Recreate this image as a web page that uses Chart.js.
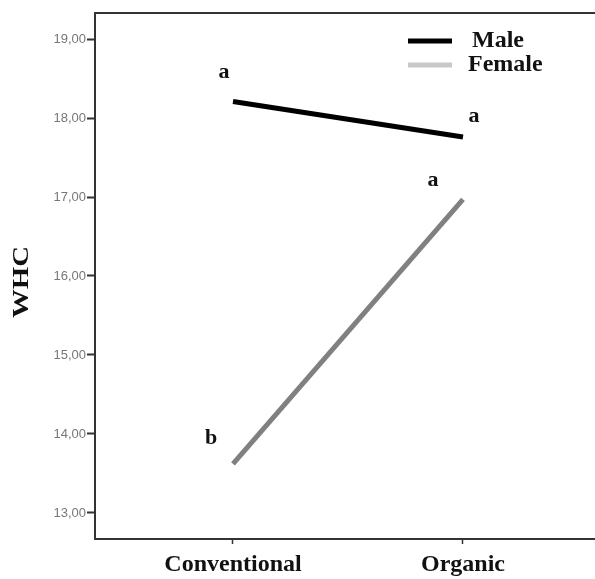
<!DOCTYPE html>
<html>
<head>
<meta charset="utf-8">
<script src="https://cdn.jsdelivr.net/npm/chart.js@4/dist/chart.umd.min.js"></script>
<style>
  html, body { margin: 0; padding: 0; background: #fff; }
  #wrap { width: 595px; height: 579px; }
</style>
</head>
<body>
<div id="wrap"><canvas id="c" width="595" height="579"></canvas></div>
<script>
// Farming system categories and WHC means by sex
const categories = ['Conventional', 'Organic'];
const seriesNames = ['Male', 'Female'];
const maleValues = [18.21, 17.76];
const femaleValues = [13.62, 16.97];
const maleLetters = ['a', 'a'];
const femaleLetters = ['b', 'a'];
const yTicks = [13, 14, 15, 16, 17, 18, 19];
const yTitle = 'WHC';

const serif = '"Liberation Serif", "Times New Roman", serif';
const sans = '"Liberation Sans", Arial, sans-serif';

// Significance letters placed next to each mean
const letterPlugin = {
  id: 'letters',
  afterDatasetsDraw(chart) {
    const { ctx, scales: { x, y } } = chart;
    const offsets = [
      [[-9, -29], [11, -21]],
      [[-22, -26], [-30, -19]]
    ];
    const sets = [[maleValues, maleLetters], [femaleValues, femaleLetters]];
    ctx.save();
    ctx.font = 'bold 22px ' + serif;
    ctx.fillStyle = '#111';
    ctx.textAlign = 'center';
    ctx.textBaseline = 'middle';
    sets.forEach(([vals, letters], s) => {
      vals.forEach((v, i) => {
        const px = x.getPixelForValue(i) + offsets[s][i][0];
        const py = y.getPixelForValue(v) + offsets[s][i][1];
        ctx.fillText(letters[i], px, py);
      });
    });
    ctx.restore();
  }
};

// Top frame line, vertical axis title and the legend in the upper right
const framePlugin = {
  id: 'frame',
  afterDraw(chart) {
    const { ctx, chartArea } = chart;
    ctx.save();
    ctx.strokeStyle = '#333';
    ctx.lineWidth = 2;
    ctx.beginPath();
    ctx.moveTo(chartArea.left - 1, chartArea.top);
    ctx.lineTo(chart.width, chartArea.top);
    ctx.stroke();

    // axis title, slightly widened along its baseline
    ctx.save();
    ctx.translate(22, (chartArea.top + chartArea.bottom) / 2 + 6);
    ctx.rotate(-Math.PI / 2);
    ctx.scale(1.2, 1);
    ctx.font = 'bold 24px ' + serif;
    ctx.fillStyle = '#111';
    ctx.textAlign = 'center';
    ctx.textBaseline = 'middle';
    ctx.fillText(yTitle, 0, 0);
    ctx.restore();

    const legendColors = ['#000000', '#c8c8c8'];
    const rows = [41, 65];
    const textX = [472, 468];
    ctx.font = 'bold 24px ' + serif;
    ctx.fillStyle = '#111';
    ctx.textBaseline = 'middle';
    ctx.textAlign = 'left';
    seriesNames.forEach((name, i) => {
      ctx.strokeStyle = legendColors[i];
      ctx.lineWidth = 5;
      ctx.beginPath();
      ctx.moveTo(408, rows[i]);
      ctx.lineTo(452, rows[i]);
      ctx.stroke();
      ctx.fillText(name, textX[i], rows[i]);
    });
    ctx.restore();
  }
};

new Chart(document.getElementById('c'), {
  type: 'line',
  data: {
    datasets: [
      {
        label: seriesNames[0],
        data: maleValues.map((v, i) => ({ x: i, y: v })),
        borderColor: '#000000',
        borderWidth: 5,
        pointRadius: 0,
        borderCapStyle: 'butt'
      },
      {
        label: seriesNames[1],
        data: femaleValues.map((v, i) => ({ x: i, y: v })),
        borderColor: '#808080',
        borderWidth: 5,
        pointRadius: 0,
        borderCapStyle: 'butt'
      }
    ]
  },
  options: {
    responsive: false,
    animation: false,
    devicePixelRatio: 1,
    layout: { padding: { top: 13, right: 0, left: 0, bottom: 0 } },
    plugins: { legend: { display: false }, tooltip: { enabled: false } },
    scales: {
      x: {
        type: 'linear',
        min: -0.6,
        max: 1.574,
        afterBuildTicks(scale) {
          scale.ticks = categories.map((_, i) => ({ value: i }));
        },
        afterFit(scale) { scale.height = 40; },
        ticks: {
          callback: (v) => categories[v] ?? '',
          font: { family: serif, size: 24, weight: 'bold' },
          color: '#111',
          padding: 6,
          maxRotation: 0,
          autoSkip: false
        },
        grid: { drawOnChartArea: false, tickLength: 5, tickColor: '#333', tickWidth: 1.5 },
        border: { color: '#333', width: 2 }
      },
      y: {
        min: 12.67,
        max: 19.33,
        afterBuildTicks(scale) {
          scale.ticks = yTicks.map(v => ({ value: v }));
        },
        afterFit(scale) { scale.width = 95; },
        ticks: {
          callback: (v) => v.toFixed(2).replace('.', ','),
          font: { family: sans, size: 13 },
          color: '#777',
          padding: 1
        },
        grid: { drawOnChartArea: false, tickLength: 8, tickColor: '#333', tickWidth: 2 },
        border: { color: '#333', width: 2 }
      }
    }
  },
  plugins: [letterPlugin, framePlugin]
});
</script>
</body>
</html>
